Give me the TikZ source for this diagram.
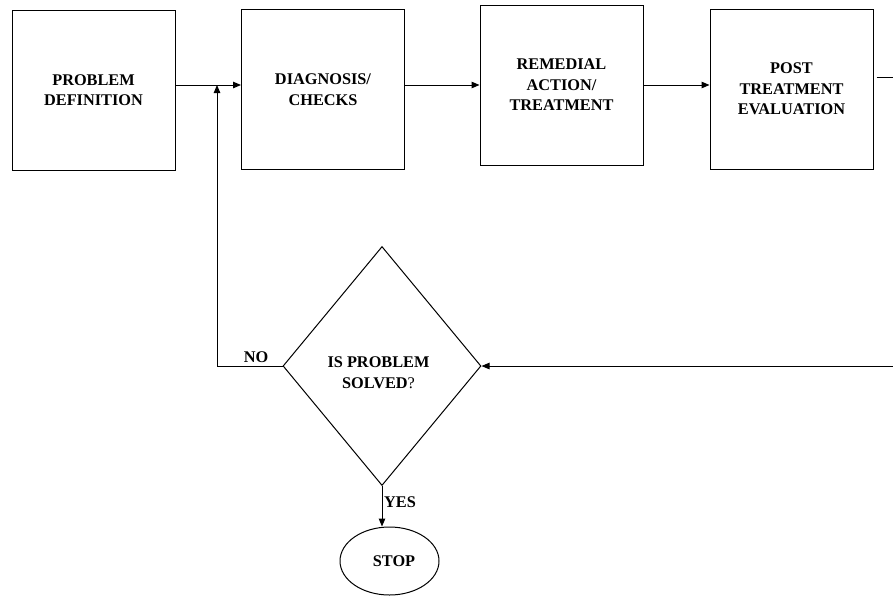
\documentclass[tikz,border=0pt]{standalone}
\usepackage{fontspec}
\setmainfont{Liberation Serif}
\usetikzlibrary{shapes.geometric,arrows.meta}
\begin{document}
\begin{tikzpicture}[x=1pt,y=-1pt,
  every node/.style={font=\fontsize{16.3}{20.5}\selectfont\bfseries},
  box/.style={draw,line width=1pt,minimum width=163pt,minimum height=160pt,inner sep=0pt,align=center},
  dia/.style={draw,line width=1pt,diamond,minimum width=198pt,minimum height=239pt,inner sep=0pt},
  term/.style={draw,line width=1pt,ellipse,minimum width=99pt,minimum height=68pt,inner sep=0pt},
  lbl/.style={inner sep=0pt,anchor=base,align=center},
  conn/.style={line width=1pt},
  arr/.style={line width=1pt,-{Triangle[length=8pt,width=6.5pt]}}]
\useasboundingbox (0,0) rectangle (893,600);
\node[box] (b1) at (93.5,90) {PROBLEM\\DEFINITION};
\node[box] (b2) at (323,89.5) {DIAGNOSIS/\\CHECKS};
\node[box] (b3) at (561.5,85) {REMEDIAL\\ACTION/\\TREATMENT};
\node[box] (b4) at (791.5,89) {POST\\TREATMENT\\EVALUATION};
\node[dia] (d) at (382,366) {};
\node[lbl] (dt) at (378.5,388) {IS PROBLEM\\SOLVED\textmd{?}};
\node[term] (stop) at (389.5,561) {};
\node[lbl] (st) at (394,566) {STOP};
\node[lbl] (no) at (256,362) {NO};
\node[lbl] (yes) at (400,507) {YES};
\coordinate (row) at (0,85);
\coordinate (j) at (217,85);
\coordinate (r1) at (893,77);
\coordinate (r2) at (893,366);
\draw[arr] (b1.east |- row) -- (b2.west |- row);
\draw[arr] (b2.east |- row) -- (b3.west |- row);
\draw[arr] (b3.east |- row) -- (b4.west |- row);
\draw[conn] ([xshift=3pt]b4.east |- r1) -- (r1);
\draw[arr] (r2) -- (d.east);
\draw[arr] (d.west) -| (j);
\draw[arr] (d.south) -- (d.south |- stop.north);
\end{tikzpicture}
\end{document}
